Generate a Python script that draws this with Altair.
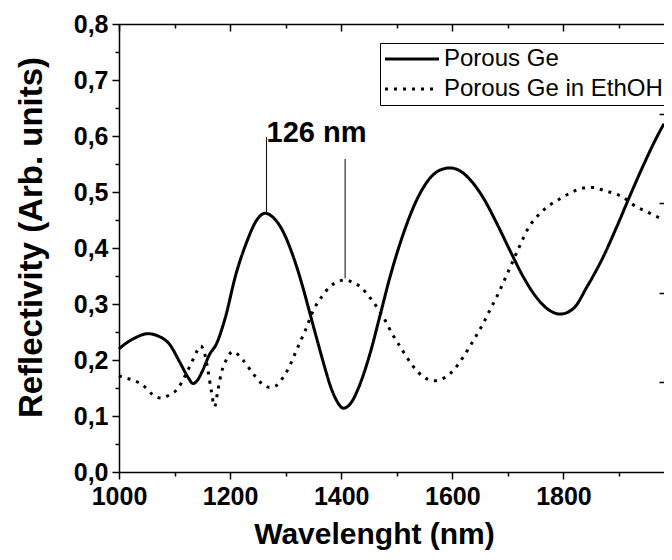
import altair as alt
import pandas as pd

# ---- data ----
wl_ge = [1000, 1010, 1030, 1052, 1070, 1091, 1110, 1125, 1133, 1142, 1150, 1163, 1175,
         1190, 1211, 1230, 1248, 1263, 1280, 1296, 1308, 1320, 1332, 1344, 1356, 1370,
         1380, 1392, 1404, 1418, 1431, 1452, 1470, 1488, 1512, 1536, 1560, 1580, 1596,
         1615, 1632, 1656, 1680, 1704, 1728, 1752, 1776, 1794, 1818, 1842, 1872, 1896,
         1920, 1944, 1968, 1981]
r_ge = [0.220, 0.228, 0.240, 0.247, 0.243, 0.228, 0.195, 0.168, 0.158, 0.165, 0.180, 0.210,
        0.228, 0.271, 0.355, 0.411, 0.450, 0.462, 0.452, 0.428, 0.400, 0.366, 0.326, 0.282,
        0.238, 0.188, 0.155, 0.127, 0.114, 0.124, 0.150, 0.212, 0.280, 0.349, 0.426, 0.486,
        0.525, 0.540, 0.543, 0.537, 0.522, 0.489, 0.444, 0.395, 0.348, 0.311, 0.288, 0.282,
        0.292, 0.330, 0.385, 0.438, 0.494, 0.548, 0.598, 0.622]

wl_eth = [1000, 1005, 1025, 1043, 1061, 1076, 1091, 1106, 1118, 1130, 1140, 1147, 1154,
          1160, 1166, 1172, 1178, 1184, 1193, 1205, 1223, 1241, 1257, 1271, 1284, 1296,
          1308, 1317, 1326, 1335, 1350, 1365, 1380, 1394, 1407, 1420, 1434, 1455, 1479,
          1491, 1506, 1530, 1548, 1566, 1587, 1605, 1620, 1632, 1644, 1656, 1668, 1680,
          1698, 1716, 1737, 1758, 1776, 1794, 1812, 1836, 1854, 1872, 1908, 1926, 1956, 1981]
r_eth = [0.172, 0.170, 0.164, 0.155, 0.138, 0.132, 0.138, 0.149, 0.170, 0.194, 0.215, 0.225,
         0.212, 0.182, 0.146, 0.117, 0.146, 0.176, 0.200, 0.215, 0.200, 0.176, 0.158, 0.151,
         0.155, 0.170, 0.191, 0.212, 0.232, 0.252, 0.289, 0.313, 0.331, 0.340, 0.343, 0.339,
         0.331, 0.307, 0.271, 0.248, 0.224, 0.188, 0.170, 0.163, 0.169, 0.185, 0.206, 0.225,
         0.245, 0.266, 0.290, 0.313, 0.352, 0.392, 0.436, 0.462, 0.477, 0.488, 0.498, 0.507,
         0.508, 0.503, 0.490, 0.477, 0.462, 0.450]

series = ["Porous Ge", "Porous Ge in EthOH"]

note_text = ["126 nm"]
note_wl = [1265.6]
note_r = [0.589]
mark_wl = [1265.6, 1407]
mark_lo = [0.462, 0.346]
mark_hi = [0.598, 0.559]

x_ticks = [1000, 1100, 1200, 1300, 1400, 1500, 1600, 1700, 1800, 1900]
y_ticks = [0.0, 0.05, 0.1, 0.15, 0.2, 0.25, 0.3, 0.35, 0.4, 0.45, 0.5, 0.55,
           0.6, 0.65, 0.7, 0.75, 0.8]
right_ticks = [0.16, 0.32, 0.48, 0.64]

# ---- tables ----
df = pd.concat([
    pd.DataFrame({"wl": wl_ge, "r": r_ge, "series": series[0]}),
    pd.DataFrame({"wl": wl_eth, "r": r_eth, "series": series[1]}),
])
notes = pd.DataFrame({"wl": note_wl, "r": note_r, "text": note_text})
marks = pd.DataFrame({"wl": mark_wl, "lo": mark_lo, "hi": mark_hi})

FONT = "Liberation Sans"
W, H = 545, 448
xs = alt.Scale(domain=[1000, 1981], nice=False, zero=False)
ys = alt.Scale(domain=[0, 0.8], nice=False, zero=False)

x_major = "datum.value % 200 === 0"
y_major = "abs(datum.value * 10 - round(datum.value * 10)) < 0.001"

lines = alt.Chart(df).mark_line(strokeWidth=3, color="black", interpolate="monotone").encode(
    x=alt.X("wl:Q", scale=xs, axis=alt.Axis(
        title="Wavelenght (nm)", values=x_ticks,
        labelExpr=f"{x_major} ? datum.value : ''",
        tickSize={"condition": {"test": x_major, "value": 7}, "value": 4},
        labelFlush=False, labelOverlap=False, labelPadding=5,
        titlePadding=10, titleX=255)),
    y=alt.Y("r:Q", scale=ys, axis=alt.Axis(
        title="Reflectivity (Arb. units)", values=y_ticks,
        labelExpr=f"{y_major} ? replace(format(datum.value, '.1f'), '.', ',') : ''",
        tickSize={"condition": {"test": y_major, "value": 7}, "value": 4},
        labelOverlap=False, labelPadding=4, titlePadding=25, titleY=213,
        titleFontSize=33)),
    strokeDash=alt.StrokeDash("series:N", scale=alt.Scale(domain=series, range=[[1, 0], [3, 6]]),
        legend=alt.Legend(title=None, orient="none", legendX=261, legendY=19,
                          strokeColor="black", fillColor="white", padding=4,
                          symbolType="M-3,0H3", symbolSize=324, symbolStrokeWidth=3,
                          symbolStrokeColor="black", symbolOffset=16, labelOffset=20,
                          rowPadding=6, labelFont=FONT, labelFontSize=24, labelLimit=0,
                          labelColor="black", labelFontWeight="normal")),
)

rules = alt.Chart(marks).mark_rule(color="black", strokeWidth=1).encode(
    x=alt.X("wl:Q", scale=xs, axis=alt.Axis(
        orient="bottom", offset=-H, values=x_ticks, labels=False, title=None,
        tickSize={"condition": {"test": x_major, "value": 7}, "value": 4})),
    y=alt.Y("lo:Q", scale=ys, axis=alt.Axis(
        orient="left", offset=-W, values=right_ticks, labels=False, title=None,
        domain=False, tickSize=5)),
    y2="hi:Q",
)

text = alt.Chart(notes).mark_text(align="left", baseline="alphabetic", font=FONT,
                                  fontSize=29, fontWeight="bold", color="black").encode(
    x=alt.X("wl:Q", scale=xs, axis=None),
    y=alt.Y("r:Q", scale=ys, axis=None),
    text="text:N",
)

chart = alt.layer(lines, rules, text).resolve_axis(x="independent", y="independent").properties(
    width=W, height=H,
    autosize=alt.AutoSizeParams(type="none"),
    padding={"left": 111, "top": 16, "right": 0, "bottom": 80},
).configure_view(stroke=None).configure_axis(
    grid=False, domainColor="black", domainWidth=1.5, tickColor="black", tickWidth=1.5,
    labelFont=FONT, labelFontSize=25, labelFontWeight="bold", labelColor="black",
    titleFont=FONT, titleFontSize=30, titleFontWeight="bold", titleColor="black",
)

chart.save("out.html", embed_options={"renderer": "svg", "actions": False})
